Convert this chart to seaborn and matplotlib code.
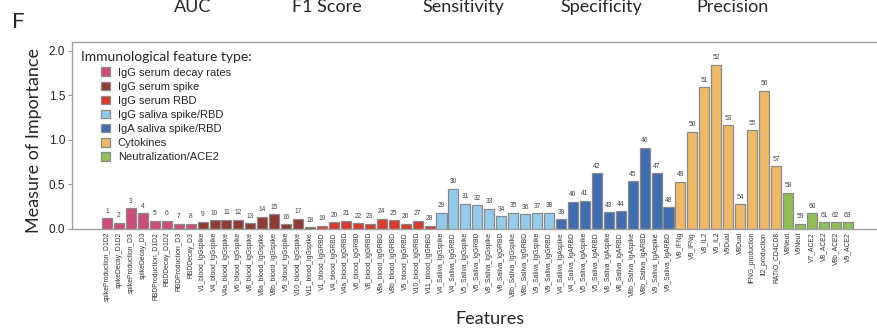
import matplotlib
matplotlib.use("Agg")
import matplotlib.pyplot as plt
import seaborn as sns
import pandas as pd
from matplotlib.patches import Patch

# data
features = [
    'spikeProduction_D1D2', 'spikeDecay_D1D2', 'spikeProduction_D3', 'spikeDecay_D3',
    'RBDProduction_D1D2', 'RBDDecay_D1D2', 'RBDProduction_D3', 'RBDDecay_D3',
    'V1_blood_IgGspike', 'V4_blood_IgGspike', 'V4a_blood_IgGspike', 'V6_blood_IgGspike',
    'V8_blood_IgGspike', 'V8a_blood_IgGspike', 'V8b_blood_IgGspike', 'V9_blood_IgGspike',
    'V10_blood_IgGspike', 'V11_blood_IgGspike',
    'V1_blood_IgGRBD', 'V4_blood_IgGRBD', 'V4a_blood_IgGRBD', 'V6_blood_IgGRBD',
    'V8_blood_IgGRBD', 'V8a_blood_IgGRBD', 'V8b_blood_IgGRBD', 'V9_blood_IgGRBD',
    'V10_blood_IgGRBD', 'V11_blood_IgGRBD',
    'V4_Saliva_IgGspike', 'V4_Saliva_IgGRBD', 'V5_Saliva_IgGspike', 'V5_Saliva_IgGRBD',
    'V8_Saliva_IgGspike', 'V8_Saliva_IgGRBD', 'V8b_Saliva_IgGspike', 'V8b_Saliva_IgGRBD',
    'V9_Saliva_IgGspike', 'V9_Saliva_IgGRBD',
    'V4_Saliva_IgAspike', 'V4_Saliva_IgARBD', 'V5_Saliva_IgAspike', 'V5_Saliva_IgARBD',
    'V8_Saliva_IgAspike', 'V8_Saliva_IgARBD', 'V8b_Saliva_IgAspike', 'V8b_Saliva_IgARBD',
    'V9_Saliva_IgAspike', 'V9_Saliva_IgARBD',
    'V8_IFNg', 'V9_IFNg', 'V8_IL2', 'V9_IL2', 'V9Dual', 'V8Dual',
    'IFNG_production', 'Il2_production', 'RATIO_CD4CD8',
    'V8Neut', 'V9Neut', 'V7_ACE2', 'V8_ACE2', 'V8b_ACE2', 'V9_ACE2',
]
importance = [
    0.115, 0.065, 0.23, 0.17, 0.088, 0.088, 0.054, 0.054,
    0.076, 0.095, 0.10, 0.10, 0.062, 0.13, 0.16, 0.05, 0.11, 0.015,
    0.03, 0.07, 0.09, 0.06, 0.055, 0.11, 0.095, 0.055, 0.085, 0.03,
    0.18, 0.45, 0.28, 0.26, 0.225, 0.14, 0.18, 0.16, 0.17, 0.18,
    0.105, 0.30, 0.31, 0.62, 0.185, 0.195, 0.535, 0.91, 0.62, 0.24,
    0.525, 1.09, 1.59, 1.845, 1.16, 0.275, 1.105, 1.55, 0.70,
    0.405, 0.055, 0.17, 0.07, 0.07, 0.07,
]
group_names = ['IgG serum decay rates', 'IgG serum spike', 'IgG serum RBD',
               'IgG saliva spike/RBD', 'IgA saliva spike/RBD', 'Cytokines',
               'Neutralization/ACE2']
group_sizes = [8, 10, 10, 10, 10, 9, 6]
group_colors = ['#CF4A7C', '#8E3A30', '#D9382A', '#94CBEA', '#3E6DB0', '#EFB967', '#90BF58']
metrics = ['AUC', 'F1 Score', 'Sensitivity', 'Specificity', 'Precision']

groups = [g for g, n in zip(group_names, group_sizes) for _ in range(n)]
df = pd.DataFrame({'feature': features, 'importance': importance, 'group': groups})

sns.set_style('ticks')
plt.rcParams['font.family'] = ['Liberation Sans', 'DejaVu Sans']

fig = plt.figure(figsize=(8.77, 3.31), dpi=100)
ax = fig.add_axes([72 / 877, 102.5 / 331, 810 / 877, 186.5 / 331])

sns.barplot(data=df, x='feature', y='importance', hue='group', order=features,
            hue_order=group_names, palette=group_colors, dodge=False, width=0.84,
            saturation=1, edgecolor='#8a8a8a', linewidth=0.9, legend=False, ax=ax)

# numbers above bars
for i, v in enumerate(importance):
    ax.annotate(str(i + 1), xy=(i, v), xytext=(0, 2.5), textcoords='offset points',
                ha='center', va='bottom', fontsize=4.8, color='#444444')

ax.set_xlim(-2.93, 64.87)
ax.set_ylim(0, 2.1)
ax.set_yticks([0.0, 0.5, 1.0, 1.5, 2.0])
ax.set_yticklabels(['0.0', '0.5', '1.0', '1.5', '2.0'], fontsize=8.5, color='#222222')
ax.tick_params(axis='y', direction='out', length=3, width=0.8, color='#999999', pad=2)
ax.set_xticks(range(len(features)))
ax.set_xticklabels(features, rotation=90, fontsize=4.9, color='#333333')
ax.tick_params(axis='x', length=0, pad=2.5)
for sp in ax.spines.values():
    sp.set_visible(True)
    sp.set_color('#a0a0a0')
    sp.set_linewidth(1.0)

ax.set_xlabel('Features', fontsize=13, family='Lato')
ax.xaxis.set_label_coords(0.516, -0.44)
ax.set_ylabel('Measure of Importance', fontsize=13, family='Lato')
ax.yaxis.set_label_coords(-0.037, 0.47)

# legend
handles = [Patch(facecolor=c, edgecolor='#8a8a8a', linewidth=0.9, label=g)
           for g, c in zip(group_names, group_colors)]
fig.text(81 / 877, 1 - 57 / 331, 'Immunological feature type:', fontsize=10,
         family='Lato', va='center', ha='left')
ax.legend(handles=handles, loc='upper left', bbox_to_anchor=(101 / 877, 1 - 67.5 / 331),
          bbox_transform=fig.transFigure, frameon=False, fontsize=8,
          handlelength=0.8, handleheight=0.8, handletextpad=0.7,
          labelspacing=0.36, borderpad=0, borderaxespad=0)

# metric headers across the top and panel letter
for m, xc in zip(metrics, [193, 327, 463, 601, 732]):
    fig.text(xc / 877, 1 - 12 / 331, m, fontsize=13, family='Lato', ha='center', va='baseline')
fig.text(12 / 877, 1 - 28 / 331, 'F', fontsize=16, family='Lato', ha='left', va='baseline')

fig.savefig('out.png', dpi=100)
